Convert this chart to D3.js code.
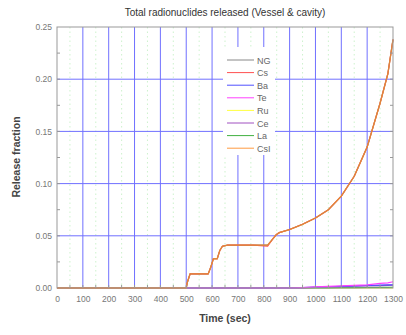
<!DOCTYPE html>
<html><head><meta charset="utf-8">
<script src="https://cdn.jsdelivr.net/npm/d3@7"></script>
<style>body{margin:0;background:#fff}svg{display:block}text{font-family:"Liberation Sans",Arial,sans-serif}</style>
</head><body><svg id="c" width="406" height="335"></svg>
<script>
const title = "Total radionuclides released (Vessel & cavity)";
const xLabel = "Time (sec)";
const yLabel = "Release fraction";
const xTicks = [0,100,200,300,400,500,600,700,800,900,1000,1100,1200,1300];
const yTicks = [0,0.05,0.10,0.15,0.20,0.25];
const seriesNames = ["NG","Cs","Ba","Te","Ru","Ce","La","CsI"];
const seriesColors = ["#888888","#ff5050","#5050ff","#ff40ff","#ffff40","#a050c0","#40b040","#ff9a40"];
const time = [0,500,505,515,585,595,605,620,630,640,660,700,760,815,835,848,860,900,950,1000,1050,1100,1150,1200,1250,1280,1300];
const ngVals  = [0,0,0.006,0.0135,0.0135,0.020,0.028,0.028,0.036,0.040,0.041,0.041,0.041,0.041,0.047,0.051,0.053,0.056,0.061,0.067,0.075,0.088,0.107,0.135,0.177,0.205,0.238];
const csVals  = [0,0,0.006,0.0135,0.0135,0.020,0.028,0.028,0.036,0.040,0.041,0.041,0.041,0.040,0.047,0.051,0.053,0.056,0.061,0.067,0.075,0.088,0.107,0.135,0.177,0.205,0.238];
const baVals  = [0,0,0,0,0,0,0,0,0,0,0,0,0,0,0,0,0,0,0.0003,0.0008,0.0012,0.0016,0.002,0.0024,0.0027,0.003,0.003];
const teVals  = [0,0,0,0,0,0,0,0,0,0,0,0,0,0,0,0,0,0,0.0004,0.001,0.0015,0.002,0.0025,0.003,0.0045,0.005,0.006];
const ruVals  = [0,0,0,0,0,0,0,0,0,0,0,0,0,0,0,0,0,0,0,0,0,0,0,0,0,0,0];
const ceVals  = [0,0,0,0,0,0,0,0,0,0,0,0,0,0,0,0,0,0,0.0002,0.0006,0.001,0.0014,0.0018,0.002,0.0023,0.0025,0.0027];
const laVals  = [0,0,0,0,0,0,0,0,0,0,0,0,0,0,0,0,0,0,0,0.0001,0.0002,0.0003,0.0004,0.0005,0.0006,0.0006,0.0007];
const csiVals = [0,0,0.006,0.0135,0.0135,0.020,0.028,0.028,0.036,0.040,0.041,0.041,0.041,0.041,0.047,0.051,0.053,0.056,0.061,0.067,0.075,0.088,0.107,0.135,0.177,0.205,0.238];
const allVals = [ngVals,csVals,baVals,teVals,ruVals,ceVals,laVals,csiVals];

const svg = d3.select("#c");
const L=57,R=393,T=27,B=288;
const x = d3.scaleLinear().domain([0,1300]).range([L,R]);
const y = d3.scaleLinear().domain([0,0.25]).range([B,T]);

// minor green dashed verticals
svg.append("g").selectAll("line").data(d3.range(50,1300,100)).join("line")
  .attr("x1",d=>x(d)).attr("x2",d=>x(d)).attr("y1",T).attr("y2",B)
  .attr("stroke","#b8ecb8").attr("stroke-width",0.7).attr("stroke-dasharray","1.5,3");
// blue grid
svg.append("g").selectAll("line").data(xTicks.slice(1,-1)).join("line")
  .attr("x1",d=>x(d)).attr("x2",d=>x(d)).attr("y1",T).attr("y2",B)
  .attr("stroke","#7070ff").attr("stroke-width",1);
svg.append("g").selectAll("line").data(yTicks.slice(1,-1)).join("line")
  .attr("x1",L).attr("x2",R).attr("y1",d=>y(d)).attr("y2",d=>y(d))
  .attr("stroke","#7070ff").attr("stroke-width",1);

// legend background
svg.append("rect").attr("x",223).attr("y",47).attr("width",52).attr("height",108).attr("fill","#fff");

// lines
const line = d3.line().x((d,i)=>x(time[i])).y(d=>y(d));
const order=[4,6,5,2,3,0,1,7];
order.forEach(k=>{
  svg.append("path").datum(allVals[k]).attr("d",line).attr("fill","none")
    .attr("stroke",seriesColors[k]).attr("stroke-width",k===7?1.3:1.2);
});
svg.append("path").datum(ngVals).attr("d",line).attr("fill","none")
  .attr("stroke","#805030").attr("stroke-width",0.6).attr("stroke-opacity",0.5);

// frame
svg.append("rect").attr("x",L).attr("y",T).attr("width",R-L).attr("height",B-T)
  .attr("fill","none").attr("stroke","#999").attr("stroke-width",1);

// axes
const xa = svg.append("g").attr("transform",`translate(0,${B})`)
  .call(d3.axisBottom(x).tickValues(xTicks).tickSize(0).tickPadding(8).tickFormat(d3.format("d")));
const ya = svg.append("g").attr("transform",`translate(${L},0)`)
  .call(d3.axisLeft(y).tickValues(yTicks).tickSize(0).tickPadding(5).tickFormat(d3.format(".2f")));
[xa,ya].forEach(a=>{a.select(".domain").remove();a.selectAll("text").attr("fill","#777").attr("font-size",8.5);});
// minor ticks
svg.append("g").selectAll("line").data(d3.range(50,1300,50)).join("line")
  .attr("x1",d=>x(d)).attr("x2",d=>x(d)).attr("y1",B).attr("y2",B-3).attr("stroke","#999");
svg.append("g").selectAll("line").data(d3.range(0.025,0.25,0.025)).join("line")
  .attr("x1",L).attr("x2",L+3).attr("y1",d=>y(d)).attr("y2",d=>y(d)).attr("stroke","#999");
svg.append("g").selectAll("line").data(d3.range(0.025,0.25,0.025)).join("line")
  .attr("x1",R).attr("x2",R-3).attr("y1",d=>y(d)).attr("y2",d=>y(d)).attr("stroke","#999");

// legend
const lg = svg.append("g");
seriesNames.forEach((n,i)=>{
  const yy = 60 + i*12.6;
  lg.append("line").attr("x1",227).attr("x2",254).attr("y1",yy).attr("y2",yy).attr("stroke",seriesColors[i]).attr("stroke-width",1);
  lg.append("text").attr("x",257).attr("y",yy+3.5).attr("font-size",9).attr("fill","#666").text(n);
});

// titles
svg.append("text").attr("x",225).attr("y",16).attr("text-anchor","middle").attr("font-size",10).attr("fill","#333").text(title);
svg.append("text").attr("x",225).attr("y",322).attr("text-anchor","middle").attr("font-size",10.5).attr("font-weight","bold").attr("fill","#444").text(xLabel);
svg.append("text").attr("transform","translate(20,157) rotate(-90)").attr("text-anchor","middle").attr("font-size",10.5).attr("font-weight","bold").attr("fill","#444").text(yLabel);
</script></body></html>
